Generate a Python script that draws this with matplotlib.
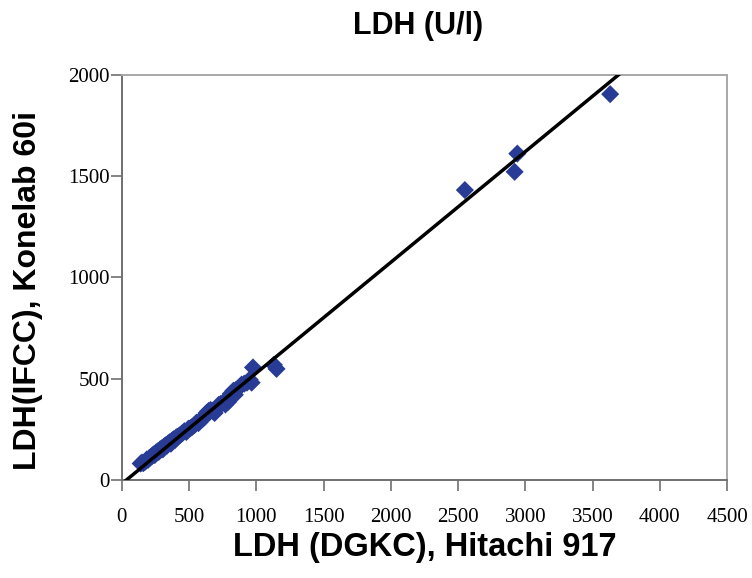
import matplotlib
matplotlib.use("Agg")
import matplotlib.pyplot as plt
import numpy as np

# Data
hitachi_dgkc = [140, 150, 160, 175, 185, 195, 205, 215, 225, 235, 245, 255, 265, 275,
                285, 295, 305, 315, 325, 335, 345, 355, 365, 375, 385, 395, 405, 420,
                435, 450, 465, 480, 495, 510, 525, 540, 555, 570, 585, 600, 615, 630,
                645, 660, 675, 690, 705, 720, 735, 750, 770, 790, 810, 830, 840, 850,
                870, 890, 910, 930, 950, 965, 975, 1130, 1150, 2550, 2920, 2940, 3630]
konelab_ifcc = [80, 85, 82, 90, 100, 98, 108, 112, 118, 125, 122, 135, 140, 138,
                150, 155, 150, 165, 170, 168, 180, 185, 178, 195, 200, 196, 210, 215,
                222, 230, 240, 236, 252, 255, 262, 270, 282, 280, 295, 300, 310, 330,
                340, 345, 340, 330, 355, 370, 375, 380, 372, 385, 425, 440, 420, 445,
                455, 470, 475, 480, 495, 480, 555, 568, 548, 1432, 1522, 1612, 1906]

fit_slope = 0.5475
fit_intercept = -20.0

x_ticks = [0, 500, 1000, 1500, 2000, 2500, 3000, 3500, 4000, 4500]
y_ticks = [0, 500, 1000, 1500, 2000]

title = "LDH (U/l)"
x_label = "LDH (DGKC), Hitachi 917"
y_label = "LDH(IFCC), Konelab 60i"

fig = plt.figure(figsize=(7.52, 5.78), dpi=100)
ax = fig.add_axes([0.162, 0.170, 0.805, 0.700])

ax.scatter(hitachi_dgkc, konelab_ifcc, marker="D", s=85, color="#283C96",
           edgecolors="none", zorder=2)

fx = np.array([0.0, 4500.0])
ax.plot(fx, fit_slope * fx + fit_intercept, color="black", lw=2.5, zorder=3,
        solid_capstyle="butt")

ax.set_xlim(0, 4500)
ax.set_ylim(0, 2000)
ax.set_xticks(x_ticks)
ax.set_yticks(y_ticks)

serif = {"family": "Liberation Serif", "size": 15}
ax.set_xticklabels([str(t) for t in x_ticks], fontdict=serif)
ax.set_yticklabels([str(t) for t in y_ticks], fontdict=serif)
ax.tick_params(axis="x", direction="out", length=8, width=1.2, color="#707070", pad=12)
ax.tick_params(axis="y", direction="out", length=8, width=1.2, color="#707070", pad=0.5)

for side in ("left", "bottom"):
    ax.spines[side].set_color("#707070")
    ax.spines[side].set_linewidth(1.4)
for side in ("top", "right"):
    ax.spines[side].set_color("#A8A8A8")
    ax.spines[side].set_linewidth(1.4)

fig.text(0.556, 0.955, title, ha="center", va="center", fontsize=22,
         fontweight="bold", family="Liberation Sans")
fig.text(0.5645, 0.052, x_label, ha="center", va="center", fontsize=23.5,
         fontweight="bold", family="Liberation Sans")
fig.text(0.037, 0.498, y_label, ha="center", va="center", rotation=90, fontsize=23,
         fontweight="bold", family="Liberation Sans")

fig.savefig("out.png", dpi=100)
